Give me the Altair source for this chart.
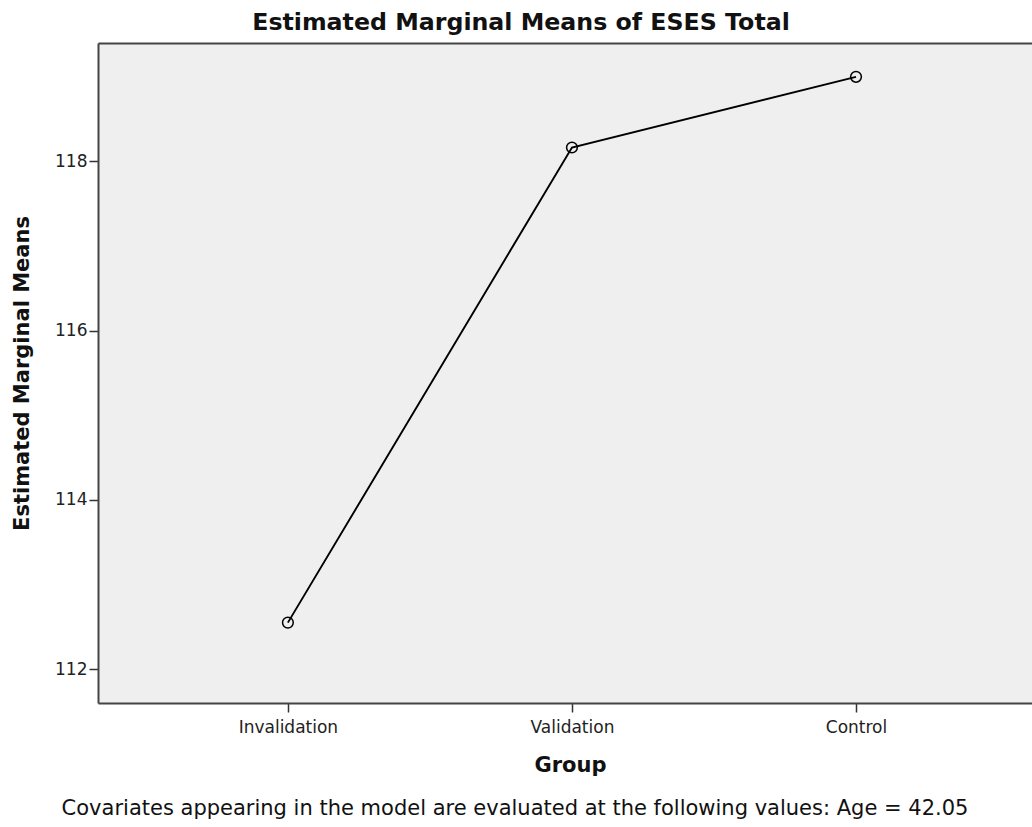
import altair as alt
import pandas as pd

# Estimated marginal means of ESES Total by group
groups = ["Invalidation", "Validation", "Control"]
means = [112.55, 118.165, 119.00]
y_ticks = [112, 114, 116, 118]
footnote = "Covariates appearing in the model are evaluated at the following values: Age = 42.05"

df = pd.DataFrame({"group": groups, "mean": means})
note_df = pd.DataFrame({"note": [footnote]})

FONT = "DejaVu Sans"
FRAME = "#444444"

x_scale = alt.Scale(type="point", domain=groups, padding=0.644, align=0.519)
y_scale = alt.Scale(domain=[111.60, 119.40], nice=False, zero=False)

y_axis = alt.Axis(
    values=y_ticks, grid=False, domainColor=FRAME, domainWidth=2,
    tickColor="#333333", tickWidth=1.5, tickSize=9,
    labelFont=FONT, labelFontSize=17, labelColor="#222222", labelPadding=2,
    title="Estimated Marginal Means", titleFont=FONT, titleFontSize=21,
    titleFontWeight="bold", titleColor="#111111", titlePadding=22,
)

x_axis = alt.Axis(
    orient="bottom", grid=False, domainColor=FRAME, domainWidth=2,
    tickColor="#333333", tickWidth=1.5, tickSize=9, labelAngle=0,
    labelFont=FONT, labelFontSize=17, labelColor="#222222", labelPadding=7,
    title="Group", titleFont=FONT, titleFontSize=21, titleFontWeight="bold",
    titleColor="#111111", titlePadding=19, titleX=472,
)

# top edge of the plot frame
x_top_axis = alt.Axis(
    orient="top", grid=False, labels=False, ticks=False, title=None,
    domainColor=FRAME, domainWidth=2, minExtent=0, maxExtent=0,
)

line = alt.Chart(df).mark_line(color="black", strokeWidth=1.9).encode(
    x=alt.X("group:N", sort=groups, scale=x_scale, axis=x_axis),
    y=alt.Y("mean:Q", scale=y_scale, axis=y_axis),
)

points = alt.Chart(df).mark_point(
    shape="circle", filled=False, size=115, color="black", strokeWidth=1.5,
    opacity=1,
).encode(
    x=alt.X("group:N", sort=groups, scale=x_scale, axis=x_top_axis),
    y=alt.Y("mean:Q", scale=y_scale, axis=y_axis),
)

note = alt.Chart(note_df).mark_text(
    font=FONT, fontSize=21, color="#111111", align="center", baseline="middle",
).encode(
    x=alt.value(417), y=alt.value(766), text="note:N",
)

chart = (
    alt.layer(line, points, note)
    .resolve_axis(x="independent")
    .properties(
        width=934,
        height=660,
        autosize=alt.AutoSizeParams(type="none"),
        padding={"left": 98, "top": 43, "right": 0, "bottom": 124},
        background="white",
        title=alt.TitleParams(
            "Estimated Marginal Means of ESES Total",
            font=FONT, fontSize=23.7, fontWeight="bold", color="#111111",
            anchor="middle", dx=-44, dy=22, offset=6, baseline="bottom",
        ),
    )
    .configure_view(fill="#efefef", stroke=None)
)

chart.save("out.html", embed_options={"renderer": "svg", "actions": False})
